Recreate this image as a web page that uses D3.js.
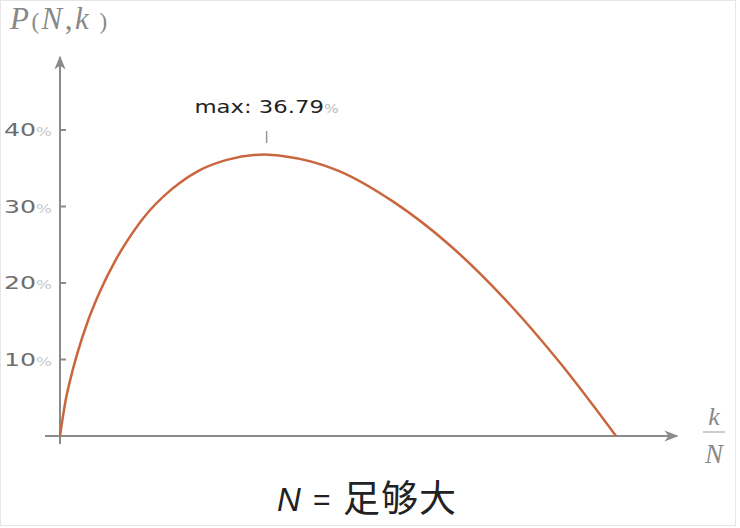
<!DOCTYPE html>
<html>
<head>
<meta charset="utf-8">
<script src="https://cdn.jsdelivr.net/npm/d3@7"></script>
<style>
  html, body { margin: 0; padding: 0; background: #fff; }
  svg { display: block; }
</style>
</head>
<body>
<div id="chart"></div>
<script>
"use strict";

// k/N ratio and success probability
const ratios = [0, 0.01, 0.02, 0.03, 0.05, 0.07, 0.1, 0.12, 0.15, 0.2, 0.25, 0.3, 0.368, 0.4, 0.5, 0.6, 0.7, 0.8, 0.9, 1.0];
const probs = [0, 0.046, 0.078, 0.105, 0.150, 0.186, 0.230, 0.254, 0.285, 0.322, 0.347, 0.361, 0.368, 0.366, 0.347, 0.306, 0.250, 0.179, 0.095, 0];
const yTicks = [0.1, 0.2, 0.3, 0.4];
const maxLabel = 'max: 36.79';

const width = 740;
const height = 528;

const x = d3.scaleLinear().domain([0, 1]).range([60, 616]);
const y = d3.scaleLinear().domain([0, 0.4]).range([436, 130]);

const svg = d3.select('#chart')
  .append('svg')
  .attr('width', width)
  .attr('height', height);

// faint frame
svg.append('rect')
  .attr('x', 0.5).attr('y', 0.5)
  .attr('width', 735).attr('height', 525)
  .attr('fill', 'none')
  .attr('stroke', '#e6e6e6');

const axisColor = '#8a8a8a';

svg.append('defs').append('marker')
  .attr('id', 'arrow')
  .attr('viewBox', '0 0 10 10')
  .attr('refX', 9).attr('refY', 5)
  .attr('markerWidth', 7).attr('markerHeight', 7)
  .attr('orient', 'auto')
  .append('path')
  .attr('d', 'M0,1 L10,5 L0,9 L3,5 Z')
  .attr('fill', axisColor);

// x axis
svg.append('line')
  .attr('x1', 45).attr('y1', y(0))
  .attr('x2', 677).attr('y2', y(0))
  .attr('stroke', axisColor).attr('stroke-width', 2)
  .attr('marker-end', 'url(#arrow)');

// y axis
svg.append('line')
  .attr('x1', x(0)).attr('y1', 444)
  .attr('x2', x(0)).attr('y2', 57)
  .attr('stroke', axisColor).attr('stroke-width', 2)
  .attr('marker-end', 'url(#arrow)');

// y ticks + labels
const tick = svg.append('g').selectAll('g')
  .data(yTicks)
  .enter().append('g')
    .attr('transform', d => `translate(0,${y(d)})`);

tick.append('line')
  .attr('x1', x(0)).attr('x2', x(0) + 6)
  .attr('stroke', axisColor).attr('stroke-width', 2);

// the labels are drawn stretched, like the wide face of the picture
const lbl = tick.append('text')
  .attr('transform', 'translate(52,0) scale(1.4,1)')
  .attr('dy', '0.36em')
  .attr('text-anchor', 'end')
  .attr('font-family', 'DejaVu Sans, Verdana, sans-serif')
  .attr('font-size', 18)
  .attr('fill', '#6e6e6e');
lbl.append('tspan').text(d => Math.round(d * 100));
lbl.append('tspan').attr('fill', '#c8c8c8').attr('font-size', 12).text('%');

// curve
const line = d3.line()
  .x((d, i) => x(ratios[i]))
  .y(d => y(d))
  .curve(d3.curveMonotoneX);

svg.append('path')
  .datum(probs)
  .attr('d', line)
  .attr('fill', 'none')
  .attr('stroke', '#c9663d')
  .attr('stroke-width', 2.5);

// max marker
const iMax = d3.maxIndex(probs);
const mx = x(ratios[iMax]) + 2;
svg.append('line')
  .attr('x1', mx).attr('x2', mx)
  .attr('y1', 131).attr('y2', 143)
  .attr('stroke', '#999').attr('stroke-width', 1.5);

const mt = svg.append('text')
  .attr('transform', `translate(${mx},113) scale(1.3,1)`)
  .attr('text-anchor', 'middle')
  .attr('font-family', 'DejaVu Sans, Verdana, sans-serif')
  .attr('font-size', 17.5)
  .attr('fill', '#222');
mt.append('tspan').text(maxLabel);
mt.append('tspan').attr('fill', '#bbb').attr('font-size', 12).text('%');

// y axis title P(N,k)
const yt = svg.append('text')
  .attr('x', 10).attr('y', 29)
  .attr('font-family', 'Liberation Serif, Times New Roman, serif')
  .attr('font-size', 31)
  .attr('letter-spacing', 2.5)
  .attr('fill', '#888');
yt.append('tspan').attr('font-style', 'italic').text('P');
yt.append('tspan').attr('font-size', 23).text('(');
yt.append('tspan').attr('font-style', 'italic').text('N');
yt.append('tspan').text(',');
yt.append('tspan').attr('font-style', 'italic').text('k');
yt.append('tspan').attr('font-size', 23).text(' )');

// x axis title k/N
const fx = 714;
svg.append('text')
  .attr('x', fx).attr('y', 425)
  .attr('text-anchor', 'middle')
  .attr('font-family', 'Liberation Serif, Times New Roman, serif')
  .attr('font-style', 'italic')
  .attr('font-size', 26)
  .attr('fill', '#888')
  .text('k');
svg.append('line')
  .attr('x1', fx - 11).attr('x2', fx + 11)
  .attr('y1', 432).attr('y2', 432)
  .attr('stroke', '#999').attr('stroke-width', 1);
svg.append('text')
  .attr('x', fx).attr('y', 463)
  .attr('text-anchor', 'middle')
  .attr('font-family', 'Liberation Serif, Times New Roman, serif')
  .attr('font-style', 'italic')
  .attr('font-size', 27)
  .attr('fill', '#888')
  .text('N');

// caption: N = 足够大
const cap = svg.append('g').attr('fill', '#222');
cap.append('text')
  .attr('x', 277).attr('y', 511)
  .attr('font-family', 'Liberation Sans, Arial, sans-serif')
  .attr('font-style', 'italic')
  .attr('font-size', 33)
  .text('N');
cap.append('text')
  .attr('x', 313).attr('y', 510)
  .attr('font-family', 'Liberation Sans, Arial, sans-serif')
  .attr('font-size', 30)
  .text('=');
cap.append('text')
  .attr('x', 343).attr('y', 512)
  .attr('font-family', 'Noto Sans CJK SC, sans-serif')
  .attr('font-size', 37)
  .attr('letter-spacing', 1)
  .text('足够大');
</script>
</body>
</html>
